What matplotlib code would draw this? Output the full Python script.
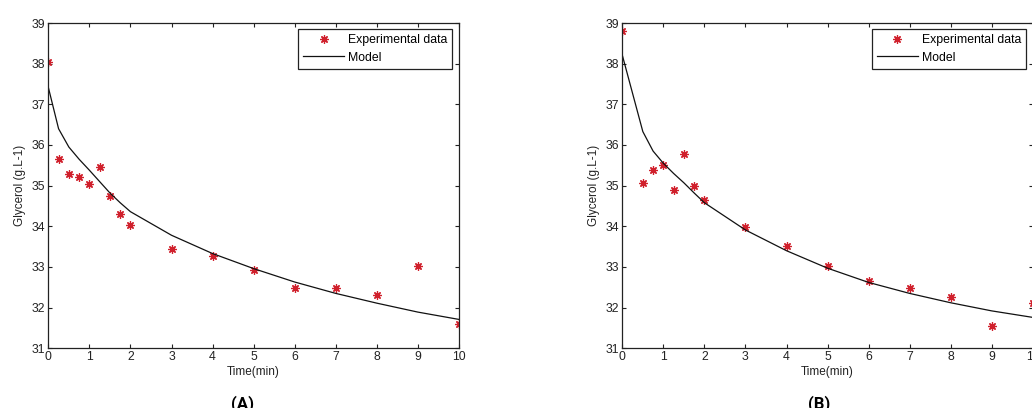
import matplotlib.pyplot as plt
import numpy as np

plt.rcParams['font.family'] = ['Liberation Sans', 'DejaVu Sans']

# panel A
t_a = [0, 0.25, 0.5, 0.75, 1, 1.25, 1.5, 1.75, 2, 3, 4, 5, 6, 7, 8, 9, 10]
exp_a = [38.04, 35.65, 35.28, 35.21, 35.05, 35.45, 34.75, 34.30, 34.02,
         33.45, 33.28, 32.93, 32.49, 32.48, 32.30, 33.02, 31.60]
mod_a = [37.42, 36.40, 35.95, 35.65, 35.38, 35.10, 34.82, 34.58, 34.36,
         33.78, 33.33, 32.96, 32.63, 32.35, 32.11, 31.89, 31.71]

# panel B
t_b = [0, 0.5, 0.75, 1, 1.25, 1.5, 1.75, 2, 3, 4, 5, 6, 7, 8, 9, 10]
exp_b = [38.81, 35.07, 35.38, 35.50, 34.89, 35.77, 35.00, 34.65,
         33.98, 33.52, 33.02, 32.65, 32.48, 32.26, 31.56, 32.12]
mod_b = [38.21, 36.33, 35.85, 35.55, 35.30, 35.07, 34.82, 34.58,
         33.91, 33.40, 32.97, 32.62, 32.35, 32.12, 31.92, 31.76]

xticks = list(range(0, 11))
yticks = list(range(31, 40))

W, H = 1032, 408
fig = plt.figure(figsize=(W/100, H/100), dpi=100)

panels = [
    (t_a, exp_a, mod_a, 48.3, 459.0, '(A)', 242.7),
    (t_b, exp_b, mod_b, 622.3, 1032.8, '(B)', 819.5),
]

star = (8, 2, 0)

for t, e, m, x0, x1, lab, labx in panels:
    ax = fig.add_axes([x0/W, 1-348.3/H, (x1-x0)/W, (348.3-23)/H])
    ax.plot(t, e, linestyle='none', marker=star, markersize=6,
            markeredgecolor='#d0202c', markeredgewidth=0.9,
            label='Experimental data')
    ax.plot(t, m, color='#111111', linewidth=0.9, label='Model')
    ax.set_xlim(0, 10)
    ax.set_ylim(31, 39)
    ax.set_xticks(xticks)
    ax.set_yticks(yticks)
    ax.tick_params(direction='in', length=3, width=0.8, top=True, right=True,
                   labelsize=8.8, colors='#222222', pad=2)
    for sp in ax.spines.values():
        sp.set_linewidth(0.9)
        sp.set_color('#222222')
    ax.set_xlabel('Time(min)', fontsize=8.5, labelpad=2, color='#222222')
    ax.set_ylabel('Glycerol (g.L-1)', fontsize=8.5, labelpad=4, color='#222222')
    leg = ax.legend(loc='upper right', bbox_to_anchor=(1 - 6.7/(x1-x0), 1 - 6.3/325.3),
                    borderaxespad=0, fancybox=False, edgecolor='#222222',
                    framealpha=1, fontsize=8.8, handlelength=3.4,
                    handletextpad=0.3, labelspacing=0.45, borderpad=0.4)
    leg.get_frame().set_linewidth(0.9)
    fig.text(labx/W, 1-395/H, lab, ha='center', va='top', fontsize=12,
             fontweight='bold', family=['Roboto', 'DejaVu Sans'])

fig.savefig('out.png', dpi=100)
